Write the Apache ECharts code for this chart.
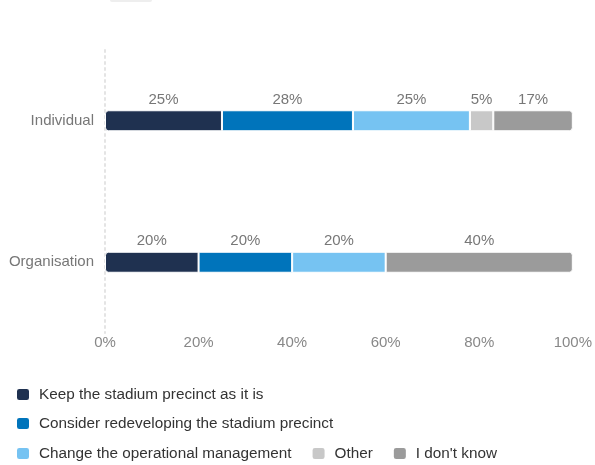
<!DOCTYPE html>
<html>
<head>
<meta charset="utf-8">
<script src="https://cdn.jsdelivr.net/npm/echarts@6/dist/echarts.min.js"></script>
<style>html,body{margin:0;padding:0;background:#fff}#c{width:595px;height:465px}</style>
</head>
<body>
<div id="c"></div>
<script>
const categories = ['Individual', 'Organisation'];
const seriesNames = ['Keep the stadium precinct as it is', 'Consider redeveloping the stadium precinct', 'Change the operational management', 'Other', "I don't know"];
const keepValues = [25, 20];
const redevelopValues = [28, 20];
const changeValues = [25, 20];
const otherValues = [5, 0];
const dontKnowValues = [17, 40];
const xTicks = [0, 20, 40, 60, 80, 100];

const colors = ['#1f3150', '#0074bb', '#76c3f2', '#c8c8c8', '#9b9b9b'];
const allValues = [keepValues, redevelopValues, changeValues, otherValues, dontKnowValues];
const FONT = 'Liberation Sans, Arial, sans-serif';

const chart = echarts.init(document.getElementById('c'), null, {renderer: 'canvas'});
const series = seriesNames.map((name, i) => ({
  name: name,
  type: 'bar',
  stack: 'total',
  barWidth: 21,
  data: allValues[i],
  itemStyle: {
    color: colors[i],
    borderColor: '#ffffff',
    borderWidth: 1,
    borderRadius: i === 0 ? [3, 0, 0, 3] : (i === 4 ? [0, 3, 3, 0] : 0)
  },
  label: {
    show: true,
    position: 'top',
    distance: 3,
    color: '#777',
    fontSize: 15,
    fontFamily: FONT,
    formatter: p => p.value > 0 ? p.value + '%' : ''
  }
}));

const legendBase = {
  orient: 'horizontal',
  left: 15,
  padding: 0,
  itemWidth: 14, itemHeight: 13, itemGap: 19,
  icon: 'roundRect',
  textStyle: {color: '#333', fontSize: 15.3, fontFamily: FONT, padding: [0, 0, 0, 4]}
};
const legendRows = [[seriesNames[0]], [seriesNames[1]], [seriesNames[2], seriesNames[3], seriesNames[4]]];
const legendTops = [387, 416, 446];

chart.setOption({
  animation: false,
  color: colors,
  graphic: [{type: 'rect', left: 110, top: -4, shape: {width: 42, height: 6, r: 2}, style: {fill: '#eeeeee'}}],
  grid: {left: 105, right: 22, top: 50, bottom: 132, containLabel: false},
  xAxis: {
    type: 'value', min: 0, max: 100, interval: 20,
    axisLine: {show: false}, axisTick: {show: false}, splitLine: {show: false},
    axisLabel: {color: '#888', fontSize: 15, fontFamily: FONT, formatter: v => xTicks.includes(v) ? v + '%' : '', margin: 2}
  },
  yAxis: {
    type: 'category', data: categories, inverse: true,
    axisLine: {show: true, lineStyle: {color: '#e4e4e4', type: [2, 4], width: 2}},
    axisTick: {show: false},
    axisLabel: {color: '#777', fontSize: 15, fontFamily: FONT, margin: 11}
  },
  legend: legendRows.map((row, k) => Object.assign({}, legendBase, {top: legendTops[k], data: row})),
  series: series
});
</script>
</body>
</html>
